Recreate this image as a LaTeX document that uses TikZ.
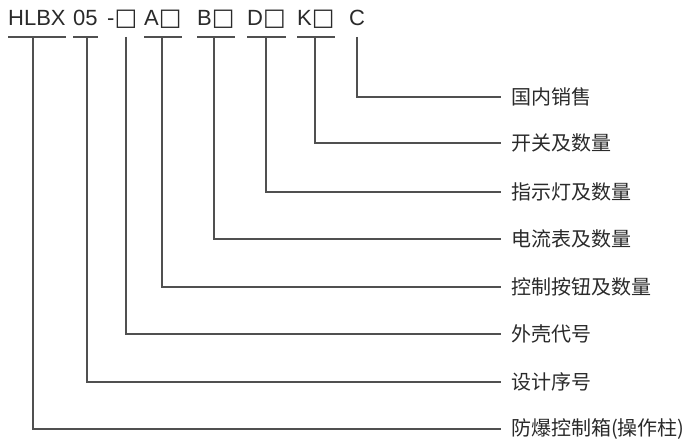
\documentclass[tikz,border=0pt]{standalone}
\usepackage{fontspec}
\setmainfont{Liberation Sans}
\newfontfamily\cjk{Noto Sans CJK SC}
\newfontfamily\symf{DejaVu Sans}
\definecolor{ln}{HTML}{505050}
\definecolor{tx}{HTML}{2A2A2A}
\newcommand{\bx}{{\symf\fontsize{24}{22}\selectfont □}}
\begin{document}
\begin{tikzpicture}[x=1pt,y=-1pt,
  code/.style={font=\fontsize{22}{22}\selectfont, text=tx, inner sep=0pt, anchor=base west},
  lab/.style={font=\cjk\fontsize{20}{20}\selectfont, text=tx, anchor=west, inner xsep=10pt, inner ysep=0pt},
  wire/.style={draw=ln, line width=1.3pt}]
\useasboundingbox (0,0) rectangle (696,441);
% model code pieces
\node[code] (t1) at (8,26) {HLBX};
\node[code] (t2) at (73,26) {05};
\node[code] (t3) at (107,26) {-\bx};
\node[code] (t4) at (144,26) {A\bx};
\node[code] (t5) at (197,26) {B\bx};
\node[code] (t6) at (247,26) {D\bx};
\node[code] (t7) at (297,26) {K\bx};
\node[code] (t8) at (349,26) {C};
% underlines
\foreach \n in {t1,t2,t4,t5,t6,t7}{
  \draw[wire] ([yshift=-11pt]\n.base west) -- ([yshift=-11pt]\n.base east);
}
% labels
\node[lab] (l1) at (501,97) {国内销售};
\node[lab] (l2) at (501,143) {开关及数量};
\node[lab] (l3) at (501,192) {指示灯及数量};
\node[lab] (l4) at (501,239) {电流表及数量};
\node[lab] (l5) at (501,287) {控制按钮及数量};
\node[lab] (l6) at (501,334) {外壳代号};
\node[lab] (l7) at (501,382) {设计序号};
\node[lab] (l8) at (501,429) {防爆控制箱(操作柱)};
% connector start points
\coordinate (u8) at (357,37);
\coordinate (u7) at (315,37);
\coordinate (u6) at (266,37);
\coordinate (u5) at (214,37);
\coordinate (u4) at (162,37);
\coordinate (u3) at (126,37);
\coordinate (u2) at (87,37);
\coordinate (u1) at (33,37);
\draw[wire] (u8) |- (l1.west);
\draw[wire] (u7) |- (l2.west);
\draw[wire] (u6) |- (l3.west);
\draw[wire] (u5) |- (l4.west);
\draw[wire] (u4) |- (l5.west);
\draw[wire] (u3) |- (l6.west);
\draw[wire] (u2) |- (l7.west);
\draw[wire] (u1) |- (l8.west);
\end{tikzpicture}
\end{document}
